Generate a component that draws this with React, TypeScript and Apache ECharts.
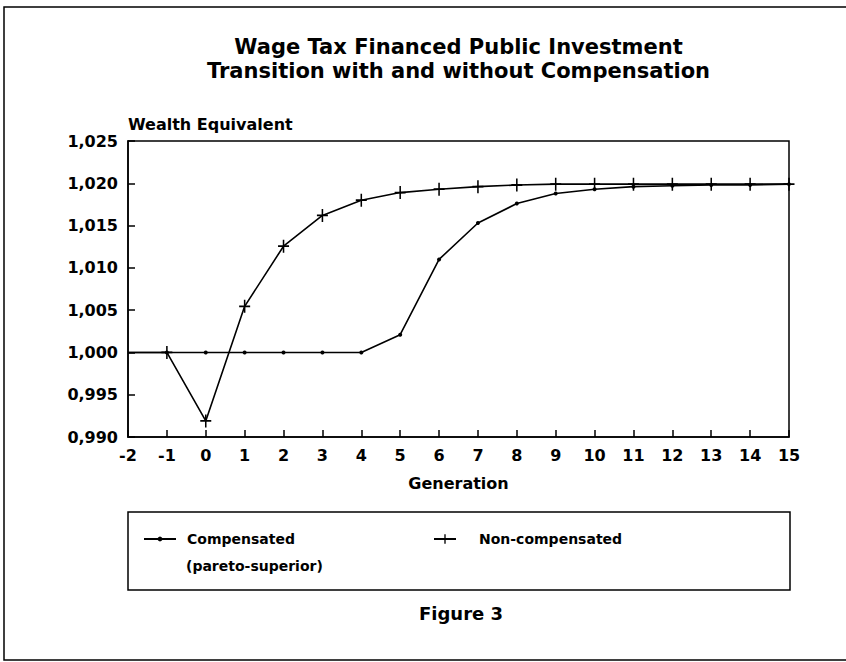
import React, { useEffect, useRef } from "react";
import * as echarts from "echarts";

const generations = [-2, -1, 0, 1, 2, 3, 4, 5, 6, 7, 8, 9, 10, 11, 12, 13, 14, 15];
const compensated = [1.0, 1.0, 1.0, 1.0, 1.0, 1.0, 1.0, 1.0021, 1.011, 1.0153, 1.0176, 1.0188, 1.0193, 1.0196, 1.0197, 1.0198, 1.0198, 1.0199];
const nonCompensated = [1.0, 1.0, 0.9919, 1.00545, 1.01256, 1.0162, 1.018, 1.0189, 1.0193, 1.0196, 1.0198, 1.0199, 1.0199, 1.0199, 1.0199, 1.0199, 1.0199, 1.0199];
const titleLines = ["Wage Tax Financed Public Investment", "Transition with and without Compensation"];
const yAxisTitle = "Wealth Equivalent";
const xAxisTitle = "Generation";
const seriesNames = ["Compensated", "Non-compensated"];
const legendSubLine = "(pareto-superior)";
const figureLabel = "Figure 3";

const FONT = '"DejaVu Sans", sans-serif';
const PLUS = "path://M4.3,0H5.7V4.3H10V5.7H5.7V10H4.3V5.7H0V4.3H4.3Z";

export default function App() {
  const ref = useRef<HTMLDivElement>(null);
  useEffect(() => {
    const chart = echarts.init(ref.current!, null, { renderer: "svg" });
    const toData = (vals: number[]) =>
      generations.map((g, i) => (i === 0 ? { value: [g, vals[i]], symbol: "none" } : { value: [g, vals[i]] }));
    chart.setOption({
      animation: false,
      backgroundColor: "#fff",
      textStyle: { fontFamily: FONT, color: "#000" },
      grid: {
        left: 128,
        top: 141,
        right: 57,
        bottom: 225,
        show: true,
        borderColor: "#000",
        borderWidth: 1.5,
        containLabel: false,
        outerBoundsMode: "none",
      },
      xAxis: {
        type: "value",
        min: -2,
        max: 15,
        interval: 1,
        name: xAxisTitle,
        nameLocation: "middle",
        nameGap: 38,
        nameTextStyle: { fontFamily: FONT, fontWeight: "bold", fontSize: 16, color: "#000" },
        axisLine: { show: true, onZero: false, lineStyle: { color: "#000", width: 1.5 } },
        axisTick: { show: true, inside: true, length: 7, lineStyle: { color: "#000", width: 1.5 } },
        axisLabel: { fontFamily: FONT, fontWeight: "bold", fontSize: 16, color: "#000", margin: 10 },
        splitLine: { show: false },
      },
      yAxis: {
        type: "value",
        min: 0.99,
        max: 1.025,
        interval: 0.005,
        axisLine: { show: true, onZero: false, lineStyle: { color: "#000", width: 1.5 } },
        axisTick: { show: true, inside: true, length: 7, lineStyle: { color: "#000", width: 1.5 } },
        axisLabel: {
          fontFamily: FONT,
          fontWeight: "bold",
          fontSize: 16,
          color: "#000",
          margin: 10,
          formatter: (v: number) => v.toFixed(3).replace(".", ","),
        },
        splitLine: { show: false },
      },
      legend: [
        {
          data: [seriesNames[0]],
          left: 138,
          top: 527,
          itemWidth: 32,
          itemHeight: 6,
          textStyle: { fontFamily: FONT, fontWeight: "bold", fontSize: 14, color: "#000", padding: [0, 0, 0, 6] },
        },
        {
          data: [seriesNames[1]],
          left: 428,
          top: 527,
          itemWidth: 22,
          itemHeight: 12,
          textStyle: { fontFamily: FONT, fontWeight: "bold", fontSize: 14, color: "#000", padding: [0, 0, 0, 18] },
        },
      ],
      graphic: [
        {
          type: "rect",
          shape: { x: 4, y: 7, width: 900, height: 653 },
          style: { fill: "none", stroke: "#000", lineWidth: 1.5 },
          silent: true,
        },
        {
          type: "text",
          style: { text: titleLines[0], x: 458.5, y: 47, align: "center", verticalAlign: "middle", font: `bold 21px ${FONT}`, fill: "#000" },
        },
        {
          type: "text",
          style: { text: titleLines[1], x: 458.5, y: 71, align: "center", verticalAlign: "middle", font: `bold 21px ${FONT}`, fill: "#000" },
        },
        {
          type: "text",
          style: { text: yAxisTitle, x: 128, y: 124, align: "left", verticalAlign: "middle", font: `bold 16px ${FONT}`, fill: "#000" },
        },
        {
          type: "rect",
          shape: { x: 128, y: 512, width: 662, height: 78 },
          style: { fill: "none", stroke: "#000", lineWidth: 1.5 },
          silent: true,
        },
        {
          type: "text",
          style: { text: legendSubLine, x: 186, y: 566, align: "left", verticalAlign: "middle", font: `bold 14px ${FONT}`, fill: "#000" },
        },
        {
          type: "text",
          style: { text: figureLabel, x: 461, y: 613, align: "center", verticalAlign: "middle", font: `bold 18px ${FONT}`, fill: "#000" },
        },
      ],
      series: [
        {
          name: seriesNames[0],
          type: "line",
          data: toData(compensated),
          symbol: "circle",
          symbolSize: 4,
          showAllSymbol: true,
          lineStyle: { color: "#000", width: 1.6 },
          itemStyle: { color: "#000" },
          z: 3,
        },
        {
          name: seriesNames[1],
          type: "line",
          data: toData(nonCompensated),
          symbol: PLUS,
          symbolSize: [11, 13],
          showAllSymbol: true,
          lineStyle: { color: "#000", width: 1.6 },
          itemStyle: { color: "#000" },
          z: 4,
        },
      ],
    });
    return () => chart.dispose();
  }, []);
  return (
    <div
      ref={ref}
      style={{ position: "fixed", left: 0, top: 0, width: 846, height: 662, background: "#fff" }}
    />
  );
}
